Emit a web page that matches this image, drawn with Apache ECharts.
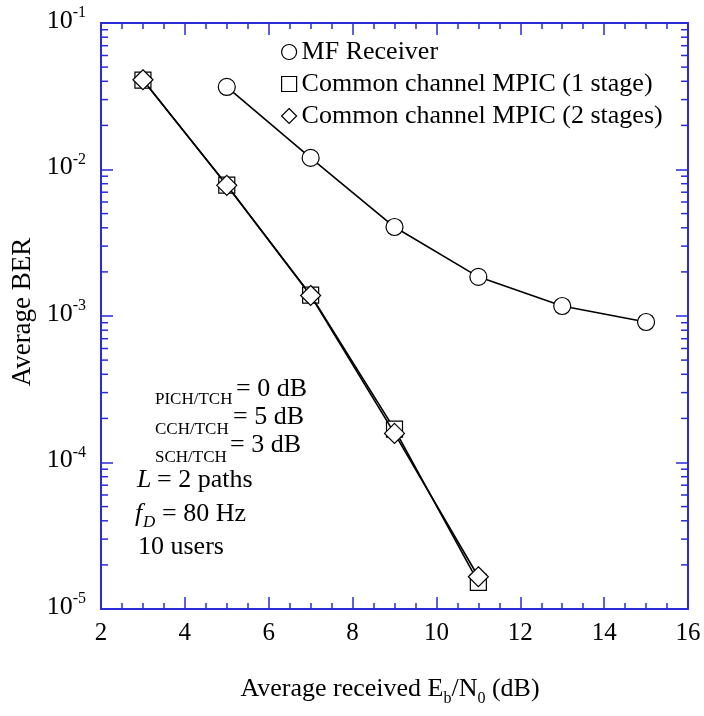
<!DOCTYPE html>
<html><head><meta charset="utf-8">
<script src="https://cdn.jsdelivr.net/npm/echarts@6/dist/echarts.min.js"></script>
<style>html,body{margin:0;padding:0;background:#fff}#c{width:704px;height:716px}</style>
</head><body><div id="c"></div>
<script>
const ebn0MF = [5, 7, 9, 11, 13, 15];
const berMF = [0.0366, 0.0120, 0.00405, 0.00185, 0.00117, 0.00091];
const ebn0MPIC = [3, 5, 7, 9, 11];
const berMPIC1 = [0.0408, 0.00783, 0.00139, 0.000169, 0.0000152];
const berMPIC2 = [0.0410, 0.00780, 0.00138, 0.000158, 0.0000166];
const seriesNames = ['MF Receiver', 'Common channel MPIC (1 stage)', 'Common channel MPIC (2 stages)'];
const xTicks = [2, 4, 6, 8, 10, 12, 14, 16];
const yDecades = [1e-5, 1e-4, 1e-3, 1e-2, 1e-1];

const FONT = '"Liberation Serif", "Times New Roman", serif';
const AXC = '#2a2ad8';
const chart = echarts.init(document.getElementById('c'));

const minorY = [];
for (let d = 0; d < yDecades.length - 1; d++) for (let k = 2; k <= 9; k++) minorY.push(+(yDecades[d] * k).toPrecision(3));

function pairs(xs, ys) { return xs.map((x, i) => [x, ys[i]]); }
const sym = { color: '#fff', borderColor: '#000', borderWidth: 1.2 };

const xAxisBase = { type: 'value', min: xTicks[0], max: xTicks[xTicks.length - 1], interval: 2, splitLine: { show: false },
  axisLine: { show: true, lineStyle: { color: AXC, width: 2 } },
  axisTick: { show: true, inside: true, length: 12, lineStyle: { color: AXC, width: 1.5 } },
  minorTick: { show: true, splitNumber: 4, length: 6, lineStyle: { color: AXC, width: 1.5 } } };
const yAxisBase = { type: 'log', logBase: 10, min: yDecades[0], max: yDecades[yDecades.length - 1], splitLine: { show: false },
  axisLine: { show: true, lineStyle: { color: AXC, width: 2 } },
  axisTick: { show: true, inside: true, length: 12, lineStyle: { color: AXC, width: 1.5 } } };

function txt(x, y, text, size, extra) {
  return { type: 'text', x: x, y: y, silent: true, style: Object.assign({ text: text, fontFamily: FONT, fontSize: size, fill: '#000', verticalAlign: 'middle' }, extra || {}) };
}

chart.setOption({
  animation: false,
  backgroundColor: '#fff',
  grid: { left: 101, top: 23, right: 16, bottom: 107 },
  xAxis: [
    Object.assign({}, xAxisBase, { position: 'bottom',
      axisLabel: { color: '#000', fontFamily: FONT, fontSize: 25, margin: 12 } }),
    Object.assign({}, xAxisBase, { position: 'top', axisLabel: { show: false } })
  ],
  yAxis: [
    Object.assign({}, yAxisBase, { position: 'left',
      axisLabel: { margin: 15, color: '#000', fontFamily: FONT,
        formatter: v => '{b|10}{s|' + Math.round(Math.log10(v)) + '}',
        rich: { b: { fontSize: 26, fontFamily: FONT, color: '#000', padding: [0, 0, 4, 0] },
                s: { fontSize: 16, fontFamily: FONT, color: '#000', padding: [0, 0, 20, 0] } } } }),
    Object.assign({}, yAxisBase, { position: 'right', axisLabel: { show: false } })
  ],
  legend: {
    orient: 'vertical', left: 276, top: 34, itemGap: 6, itemWidth: 15, itemHeight: 15,
    textStyle: { fontFamily: FONT, fontSize: 26, color: '#000', padding: [0, 0, 0, 0] },
    data: [
      { name: seriesNames[0], icon: 'circle', itemStyle: sym },
      { name: seriesNames[1], icon: 'rect', itemStyle: sym },
      { name: seriesNames[2], icon: 'diamond', itemStyle: sym }
    ]
  },
  series: [
    { name: seriesNames[0], type: 'line', data: pairs(ebn0MF, berMF), symbol: 'circle', symbolSize: 17,
      lineStyle: { color: '#000', width: 1.6 }, itemStyle: sym, z: 3 },
    { name: seriesNames[1], type: 'line', data: pairs(ebn0MPIC, berMPIC1), symbol: 'rect', symbolSize: 16,
      lineStyle: { color: '#000', width: 1.6 }, itemStyle: sym, z: 3 },
    { name: seriesNames[2], type: 'line', data: pairs(ebn0MPIC, berMPIC2), symbol: 'diamond', symbolSize: 20,
      lineStyle: { color: '#000', width: 1.6 }, itemStyle: sym, z: 4 },
    { type: 'custom', silent: true, clip: false, z: 2, data: minorY.map(v => [xTicks[0], v]),
      renderItem: (params, api) => {
        const p = api.coord([xTicks[0], api.value(1)]);
        const q = api.coord([xTicks[xTicks.length - 1], api.value(1)]);
        const st = { stroke: AXC, lineWidth: 1.5 };
        return { type: 'group', children: [
          { type: 'line', shape: { x1: p[0], y1: p[1], x2: p[0] + 7, y2: p[1] }, style: st },
          { type: 'line', shape: { x1: q[0] - 7, y1: q[1], x2: q[0], y2: q[1] }, style: st }
        ] };
      } }
  ],
  graphic: [
    { type: 'text', x: 390, y: 689, silent: true, style: {
        text: '{a|Average received E}{s|b}{a|/N}{s|0}{a| (dB)}', align: 'center', verticalAlign: 'middle',
        rich: { a: { fontFamily: FONT, fontSize: 26, fill: '#000' },
                s: { fontFamily: FONT, fontSize: 16, fill: '#000', padding: [20, 0, 0, 0] } } } },
    { type: 'text', x: 23, y: 312, rotation: Math.PI / 2, silent: true, style: {
        text: 'Average BER', fontFamily: FONT, fontSize: 27, fill: '#000', align: 'center', verticalAlign: 'middle' } },
    txt(155, 400, 'PICH/TCH', 17),
    txt(236, 389, '= 0 dB', 26),
    txt(155, 430, 'CCH/TCH', 17),
    txt(233, 417, '= 5 dB', 26),
    txt(155, 458, 'SCH/TCH', 17),
    txt(230, 445, '= 3 dB', 26),
    txt(137, 480, 'L', 26, { fontStyle: 'italic' }),
    txt(157, 480, '= 2 paths', 26),
    txt(135, 514, 'f', 26, { fontStyle: 'italic' }),
    txt(143, 523, 'D', 17, { fontStyle: 'italic' }),
    txt(162, 514, '= 80 Hz', 26),
    txt(138, 547, '10 users', 26)
  ]
});
</script></body></html>
